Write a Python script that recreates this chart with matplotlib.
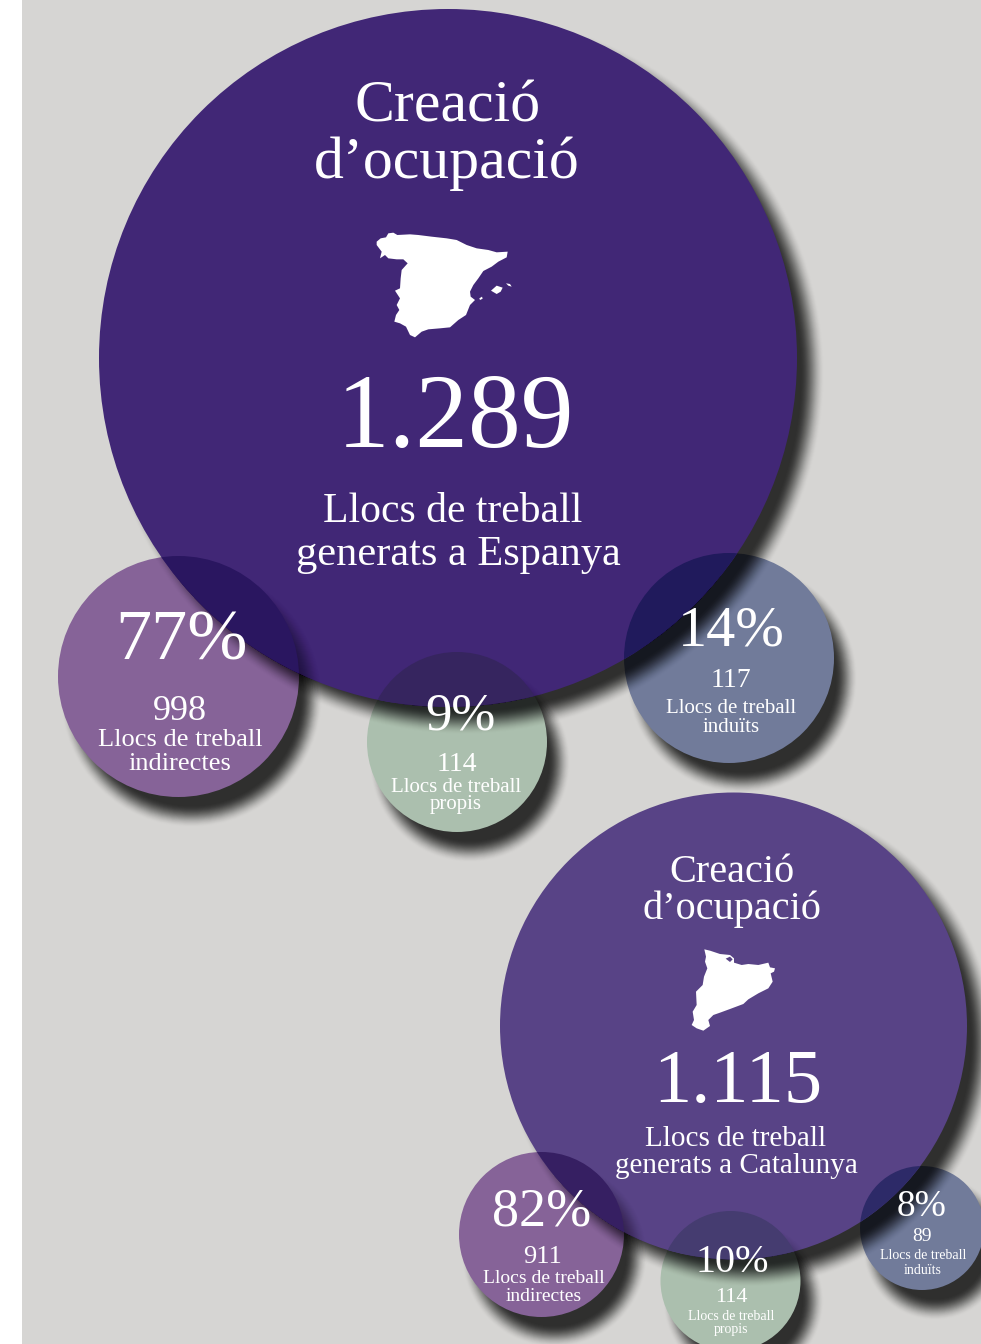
import matplotlib
matplotlib.use("Agg")
import matplotlib.pyplot as plt
from matplotlib.patches import Circle, Polygon, Rectangle

plt.rcParams["font.family"] = ["Liberation Serif", "DejaVu Serif"]

# values, as printed in the picture
titles = ["Creació", "d’ocupació"]
totals = ["1.289", "1.115"]
total_labels = ["generats a Espanya", "generats a Catalunya"]
jobs_label = "Llocs de treball"
kinds = ["indirectes", "propis", "induïts"]
spain_shares = ["77%", "9%", "14%"]
spain_jobs = ["998", "114", "117"]
cat_shares = ["82%", "10%", "8%"]
cat_jobs = ["911", "114", "89"]

BG = "#d6d5d3"
BIG_SPAIN = "#412776"
BIG_CAT = "#584386"
KIND_COLORS = ["#866398", "#abbfae", "#717b9a"]
OVERLAP_SPAIN = ["#2a1660", "#36255f", "#201a5c"]
OVERLAP_CAT = ["#361f62", "#453c70", "#2d2a68"]

# map outlines, traced by hand (pixels of a 3x crop)
spain_outline = [(50, 65), (62, 55), (78, 52), (85, 40), (100, 38), (112, 45), (150, 43), (175, 45),
                 (215, 50), (260, 55), (290, 60), (320, 75), (350, 85), (385, 90), (410, 97), (443, 95),
                 (440, 112), (415, 125), (395, 140), (370, 153), (355, 175), (340, 195), (330, 215),
                 (332, 230), (345, 240), (330, 255), (318, 285), (295, 300), (270, 322), (240, 325),
                 (205, 328), (185, 335), (165, 352), (150, 345), (138, 320), (120, 310), (103, 305),
                 (108, 285), (118, 270), (110, 255), (120, 235), (105, 212), (120, 205), (122, 175),
                 (125, 150), (143, 130), (130, 118), (110, 118), (85, 115), (75, 105), (60, 115),
                 (65, 95), (50, 75)]
mallorca = [(393, 212), (410, 197), (428, 203), (422, 215), (410, 222)]
menorca = [(438, 190), (450, 192), (455, 200), (445, 197)]
ibiza = [(358, 235), (366, 230), (368, 236), (360, 240)]
cat_outline = [(73, 28), (90, 32), (120, 42), (150, 45), (162, 55), (162, 68), (185, 75), (205, 72),
               (235, 75), (265, 68), (270, 82), (285, 85), (282, 95), (272, 100), (278, 125), (265, 145),
               (235, 160), (205, 178), (190, 192), (150, 207), (120, 218), (100, 225), (85, 240),
               (90, 258), (70, 272), (50, 265), (35, 255), (42, 240), (38, 215), (50, 195), (48, 155),
               (68, 135), (72, 110), (82, 85), (75, 65), (78, 50)]
andorra = [(137, 56), (150, 50), (158, 58), (150, 66)]

fig = plt.figure(figsize=(9.81, 13.44), dpi=100)
ax = fig.add_axes([0, 0, 1, 1])
ax.set_xlim(0, 981)
ax.set_ylim(1344, 0)
ax.axis("off")
ax.add_patch(Rectangle((22, 0), 959, 1344, color=BG, lw=0, zorder=0))


def soft_shadow(x, y, r, blur, dx, dy, z, clip=None, strength=0.75):
    # stacked translucent discs instead of a real blur, outer ring first
    n = 24
    prev = 0.0
    for i in range(1, n + 1):
        t = i / n
        target = strength * t * t * (3 - 2 * t)
        a = 1 - (1 - target) / (1 - prev)
        prev = target
        rr = r + blur - 2 * blur * t
        c = Circle((x + dx, y + dy), rr, facecolor="black", edgecolor="none", alpha=a, zorder=z)
        ax.add_patch(c)
        if clip is not None:
            c.set_clip_path(clip)


def map_shape(points, ox, oy, color, z=6):
    pts = [(ox + px / 3, oy + py / 3) for px, py in points]
    ax.add_patch(Polygon(pts, closed=True, color=color, lw=0, zorder=z))


def label(x, y, s, size, color="white"):
    ax.text(x, y, s, fontsize=size, color=color, ha="center", va="baseline", zorder=10)


def group(big, small, big_color, overlaps):
    bx, by, br = big
    # small bubbles first, the big shadow falls over them
    for (x, y, r), col in zip(small, KIND_COLORS):
        soft_shadow(x, y, r, 11, 13, 20, 1)
        ax.add_patch(Circle((x, y), r, color=col, lw=0, zorder=2))
    soft_shadow(bx, by, br, 12, 16, 16, 3)
    big_patch = Circle((bx, by), br, color=big_color, lw=0, zorder=4)
    ax.add_patch(big_patch)
    for (x, y, r), col in zip(small, overlaps):
        soft_shadow(x, y, r, 11, 13, 20, 4.5, clip=big_patch, strength=0.35)
        c = Circle((x, y), r, color=col, lw=0, zorder=5)
        ax.add_patch(c)
        c.set_clip_path(big_patch)


group((448, 358, 349), [(178.5, 676.5, 120.5), (457, 742, 90), (729, 658, 105)], BIG_SPAIN, OVERLAP_SPAIN)
group((733.5, 1026, 233.5), [(541.5, 1234.5, 82.5), (730.5, 1281, 70), (922, 1228, 62)], BIG_CAT, OVERLAP_CAT)

for shape in [spain_outline, mallorca, menorca, ibiza]:
    map_shape(shape, 360, 220, "white")
map_shape(cat_outline, 680, 940, "white")
map_shape(andorra, 680, 940, BIG_CAT, z=7)

# Spain
label(448, 122, titles[0], 43)
label(447, 178, titles[1], 43)
label(456, 447, totals[0], 76)
label(453, 522, jobs_label, 30)
label(458, 565, total_labels[0], 30.5)

label(181, 660, spain_shares[0], 52)
label(180, 720, spain_jobs[0], 26)
label(180, 746, jobs_label, 19)
label(180, 770, kinds[0], 19)

label(460, 730, spain_shares[1], 38)
label(457, 771, spain_jobs[1], 20)
label(456, 792, jobs_label, 15)
label(456, 809, kinds[1], 15)

label(731, 645, spain_shares[2], 42)
label(731, 687, spain_jobs[2], 20)
label(731, 713, jobs_label, 15)
label(731, 732, kinds[2], 15)

# Catalunya
label(732, 882, titles[0], 29)
label(732, 919, titles[1], 29)
label(738, 1102, totals[1], 55)
label(736, 1146, jobs_label, 21)
label(736, 1173, total_labels[1], 21)

label(542, 1225, cat_shares[0], 39)
label(542, 1263, cat_jobs[0], 19)
label(544, 1283, jobs_label, 14)
label(544, 1301, kinds[0], 14)

label(732, 1272, cat_shares[1], 29)
label(731, 1302, cat_jobs[1], 16)
label(731, 1320, jobs_label, 10)
label(731, 1333, kinds[1], 10)

label(922, 1216, cat_shares[2], 27)
label(922, 1241, cat_jobs[2], 14)
label(923, 1259, jobs_label, 10)
label(923, 1274, kinds[2], 10)

fig.savefig("out.png", dpi=100)
